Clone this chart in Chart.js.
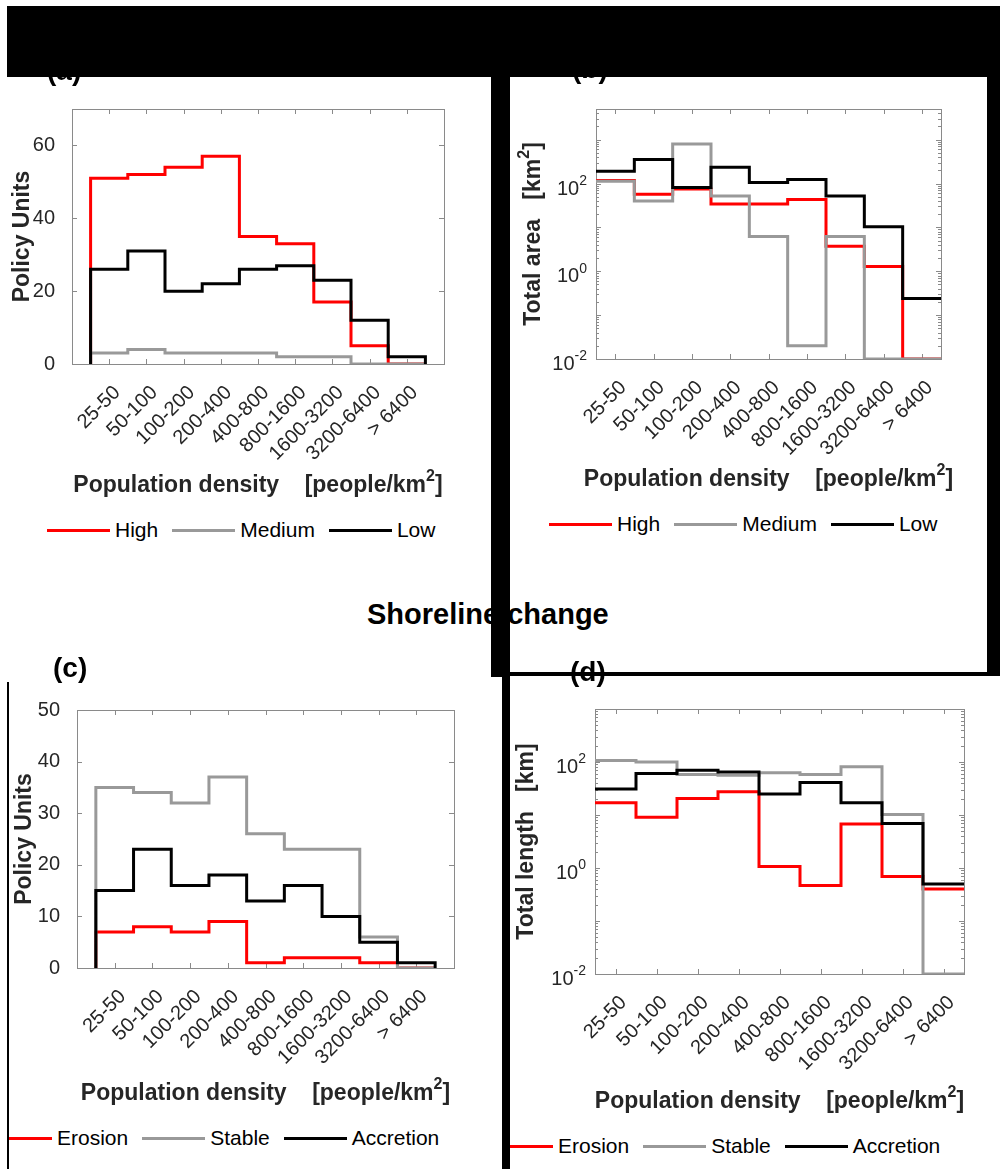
<!DOCTYPE html>
<html>
<head>
<meta charset="utf-8">
<script src="https://cdn.jsdelivr.net/npm/chart.js@4.4.1/dist/chart.umd.min.js"></script>
<style>
  html, body { margin: 0; padding: 0; background: #fff; }
  body { width: 1000px; height: 1169px; position: relative; overflow: hidden;
         font-family: 'Liberation Sans', Arial, Helvetica, sans-serif; }
  canvas { position: absolute; }
  .black { position: absolute; background: #000; }
  .label { position: absolute; font-weight: bold; color: #000; line-height: 1; white-space: pre; }
  .legend { position: absolute; top: 0; display: flex; align-items: center; height: 24px;
            font-size: 21px; color: #000; white-space: nowrap; }
  .legend .item { display: flex; align-items: center; margin-right: 14px; }
  .legend .swatch { width: 63px; height: 3px; margin-right: 5px; }
  .clip { position: absolute; overflow: hidden; height: 24px; }
</style>
</head>
<body>

<canvas id="chartA" width="490" height="420" style="left:0;top:80px"></canvas>
<canvas id="chartB" width="487" height="420" style="left:500px;top:80px"></canvas>
<canvas id="chartC" width="480" height="440" style="left:10px;top:680px"></canvas>
<canvas id="chartD" width="476" height="440" style="left:511px;top:680px"></canvas>

<div class="label" style="left:47px;top:57px;font-size:28px">(a)</div>
<div class="label" style="left:572px;top:55px;font-size:28px">(b)</div>
<div class="label" style="left:53px;top:654px;font-size:28px">(c)</div>
<div class="label" style="left:570px;top:658px;font-size:28px">(d)</div>
<div class="label" style="left:367px;top:600px;font-size:29px">Shoreline change</div>

<div class="clip" style="left:0;top:518px;width:490px"><div class="legend" id="legendA" style="left:47px"></div></div>
<div class="clip" style="left:510px;top:512px;width:477px"><div class="legend" id="legendB" style="left:39px"></div></div>
<div class="clip" style="left:9px;top:1126px;width:481px"><div class="legend" id="legendC" style="left:-20px"></div></div>
<div class="clip" style="left:510px;top:1134px;width:490px"><div class="legend" id="legendD" style="left:-20px"></div></div>

<!-- black masking frame -->
<div class="black" style="left:7px;top:6px;width:993px;height:71px"></div>
<div class="black" style="left:491px;top:77px;width:19px;height:600px"></div>
<div class="black" style="left:987px;top:77px;width:13px;height:596px"></div>
<div class="black" style="left:491px;top:672px;width:509px;height:4px"></div>
<div class="black" style="left:502px;top:677px;width:8px;height:492px"></div>
<div class="black" style="left:7px;top:682px;width:2px;height:487px"></div>

<script>
const FONT = "'Liberation Sans', Arial, Helvetica, sans-serif";
const TEXT_GRAY = '#262626';
const BOX_GRAY = '#8a8a8a';
const RED = '#ff0000', GRAY = '#999999', BLACK = '#000000';

const densityBins = ['25-50', '50-100', '100-200', '200-400', '400-800',
                     '800-1600', '1600-3200', '3200-6400', '> 6400'];

// (a) policy units per vulnerability class
const unitsHigh   = [51, 52, 54, 57, 35, 33, 17, 5, 0];
const unitsMedium = [3, 4, 3, 3, 3, 2, 2, 0, 0];
const unitsLow    = [26, 31, 20, 22, 26, 27, 23, 12, 2];

// (b) total area [km2]
const areaHigh   = [117, 57, 75, 34, 34, 43, 3.7, 1.28, 0.01];
const areaMedium = [113, 40, 800, 52, 6.2, 0.02, 6.2, 0.01, 0.01];
const areaLow    = [190, 355, 81, 234, 105, 123, 52, 10.4, 0.24];

// (c) policy units per shoreline change class
const unitsErosion   = [7, 8, 7, 9, 1, 2, 2, 1, 0];
const unitsStable    = [35, 34, 32, 37, 26, 23, 23, 6, 0];
const unitsAccretion = [15, 23, 16, 18, 13, 16, 10, 5, 1];

// (d) total shoreline length [km]
const lengthErosion   = [17, 9.1, 20.5, 27.5, 1.07, 0.47, 6.8, 0.69, 0.40];
const lengthStable    = [107, 100, 58, 56, 63, 58, 81, 10.2, 0.01];
const lengthAccretion = [31, 61, 70, 65, 25, 41, 17, 6.9, 0.5];

const unitsTicksA = [0, 20, 40, 60];
const unitsTicksC = [0, 10, 20, 30, 40, 50];
const logTicks = [0.01, 1, 100];
const logTickExp = ['-2', '0', '2'];

const vulnLabels = ['High', 'Medium', 'Low'];
const changeLabels = ['Erosion', 'Stable', 'Accretion'];

// histogram outline: bins centred on 1..n, edges at half steps
function stairPoints(values, closed) {
  const pts = [];
  if (closed) pts.push({ x: 0.5, y: 0 });
  values.forEach((v, i) => pts.push({ x: i + 0.5, y: v }));
  pts.push({ x: values.length + 0.5, y: closed ? 0 : values[values.length - 1] });
  return pts;
}

// text with superscript pieces, parts = [[text, isSup], ...]
function drawRich(ctx, parts, x, y, size, align, weight) {
  const base = `${weight} ${size}px ${FONT}`;
  const sup = `${weight} ${Math.round(size * 0.7)}px ${FONT}`;
  let total = 0;
  parts.forEach(([t, s]) => { ctx.font = s ? sup : base; total += ctx.measureText(t).width; });
  let cx = align === 'center' ? x - total / 2 : x - total;
  ctx.textAlign = 'left';
  ctx.textBaseline = 'alphabetic';
  parts.forEach(([t, s]) => {
    ctx.font = s ? sup : base;
    ctx.fillText(t, cx, s ? y - size * 0.48 : y);
    cx += ctx.measureText(t).width;
  });
}

const panelFrame = {
  id: 'panelFrame',
  beforeDatasetsDraw(chart, args, o) {
    const { ctx, chartArea: a, scales: { x, y } } = chart;
    ctx.save();
    ctx.strokeStyle = BOX_GRAY;
    ctx.lineWidth = 1;
    ctx.beginPath();
    densityBins.forEach((_, i) => {
      const px = Math.round(x.getPixelForValue(i + 1)) + 0.5;
      ctx.moveTo(px, a.bottom); ctx.lineTo(px, a.bottom - 5);
      ctx.moveTo(px, a.top); ctx.lineTo(px, a.top + 5);
    });
    const yTick = (v, len) => {
      const py = Math.round(y.getPixelForValue(v)) + 0.5;
      ctx.moveTo(a.left, py); ctx.lineTo(a.left + len, py);
      ctx.moveTo(a.right, py); ctx.lineTo(a.right - len, py);
    };
    if (o.log) {
      for (let e = -2; e <= 4; e++) {
        for (let k = 1; k <= 9; k++) {
          const v = k * Math.pow(10, e);
          if (v <= y.max) yTick(v, k === 1 ? 5 : 3);
        }
      }
    } else {
      o.yTicks.forEach(v => yTick(v, 5));
    }
    ctx.stroke();
    ctx.strokeRect(Math.round(a.left) + 0.5, Math.round(a.top) + 0.5,
                   Math.round(a.width), Math.round(a.height));
    ctx.restore();
  },
  afterDraw(chart, args, o) {
    const { ctx, chartArea: a, scales: { y } } = chart;
    ctx.save();
    ctx.fillStyle = TEXT_GRAY;
    if (o.log) {
      logTicks.forEach((v, i) => {
        const py = y.getPixelForValue(v);
        drawRich(ctx, [['10'], [logTickExp[i], true]], a.left - 9, py + 11, 20, 'right', 'normal');
      });
    }
    drawRich(ctx, o.xTitle, (a.left + a.right) / 2, a.bottom + o.xTitleGap, 23, 'center', 'bold');
    ctx.translate(a.left + o.yTitleGap, (a.top + a.bottom) / 2);
    ctx.rotate(-Math.PI / 2);
    drawRich(ctx, o.yTitle, 0, 0, 23, 'center', 'bold');
    ctx.restore();
  }
};

const densityTitle = [['Population density    [people/km'], ['2', true], [']']];

function panelChart(id, cfg) {
  const colors = [RED, GRAY, BLACK];
  const yScale = cfg.log ? {
    type: 'logarithmic', min: 0.01, max: cfg.yMax,
    afterFit: s => { s.width = cfg.yWidth; },
    grid: { display: false }, border: { display: false },
    ticks: { display: false }
  } : {
    type: 'linear', min: 0, max: cfg.yMax,
    afterBuildTicks: s => { s.ticks = cfg.yTicks.map(v => ({ value: v })); },
    afterFit: s => { s.width = cfg.yWidth; },
    grid: { display: false }, border: { display: false },
    ticks: { padding: 9, color: TEXT_GRAY, font: { family: FONT, size: 20 } }
  };
  return new Chart(document.getElementById(id), {
    type: 'line',
    data: {
      datasets: cfg.series.map((vals, i) => ({
        label: cfg.labels[i],
        data: stairPoints(vals, !cfg.log),
        borderColor: colors[i],
        backgroundColor: colors[i],
        borderWidth: 3,
        borderJoinStyle: 'miter',
        pointRadius: 0,
        fill: false,
        stepped: true,
        order: 2 - i
      }))
    },
    options: {
      responsive: false,
      animation: false,
      devicePixelRatio: 1,
      layout: { padding: { left: 0, top: cfg.padTop, right: cfg.padRight, bottom: 0 } },
      scales: {
        x: {
          type: 'linear', min: cfg.xMin, max: cfg.xMax,
          afterBuildTicks: s => { s.ticks = densityBins.map((_, i) => ({ value: i + 1 })); },
          afterFit: s => { s.height = cfg.xHeight; },
          grid: { display: false }, border: { display: false },
          ticks: {
            autoSkip: false, minRotation: 45, maxRotation: 45, padding: 9, labelOffset: 8,
            color: TEXT_GRAY, font: { family: FONT, size: 20 },
            callback: v => densityBins[v - 1] ?? ''
          }
        },
        y: yScale
      },
      plugins: {
        legend: { display: false },
        tooltip: { enabled: false },
        panelFrame: {
          log: cfg.log, yTicks: cfg.yTicks,
          xTitle: densityTitle, yTitle: cfg.yTitle,
          xTitleGap: cfg.xTitleGap, yTitleGap: cfg.yTitleGap
        }
      }
    },
    plugins: [panelFrame]
  });
}

function buildLegend(id, labels) {
  const el = document.getElementById(id);
  [RED, GRAY, BLACK].forEach((c, i) => {
    const item = document.createElement('div');
    item.className = 'item';
    item.innerHTML = `<span class="swatch" style="background:${c}"></span><span>${labels[i]}</span>`;
    el.appendChild(item);
  });
}

panelChart('chartA', {
  series: [unitsHigh, unitsMedium, unitsLow], labels: vulnLabels,
  log: false, yMax: 70, yTicks: unitsTicksA, xMin: 0, xMax: 10,
  yWidth: 72, padTop: 29, padRight: 46, xHeight: 136,
  yTitle: [['Policy Units']], xTitleGap: 128, yTitleGap: -43
});

panelChart('chartB', {
  series: [areaHigh, areaMedium, areaLow], labels: vulnLabels,
  log: true, yMax: 5000, xMin: 0.5, xMax: 9.5,
  yWidth: 96, padTop: 29, padRight: 46, xHeight: 141,
  yTitle: [['Total area   [km'], ['2', true], [']']], xTitleGap: 127, yTitleGap: -56
});

panelChart('chartC', {
  series: [unitsErosion, unitsStable, unitsAccretion], labels: changeLabels,
  log: false, yMax: 50, yTicks: unitsTicksC, xMin: 0, xMax: 10,
  yWidth: 67, padTop: 30, padRight: 36, xHeight: 152,
  yTitle: [['Policy Units']], xTitleGap: 132, yTitleGap: -46
});

panelChart('chartD', {
  series: [lengthErosion, lengthStable, lengthAccretion], labels: changeLabels,
  log: true, yMax: 1000, xMin: 0.5, xMax: 9.5,
  yWidth: 84, padTop: 29, padRight: 23, xHeight: 146,
  yTitle: [['Total length   [km]']], xTitleGap: 134, yTitleGap: -62
});

buildLegend('legendA', vulnLabels);
buildLegend('legendB', vulnLabels);
buildLegend('legendC', changeLabels);
buildLegend('legendD', changeLabels);
</script>
</body>
</html>
